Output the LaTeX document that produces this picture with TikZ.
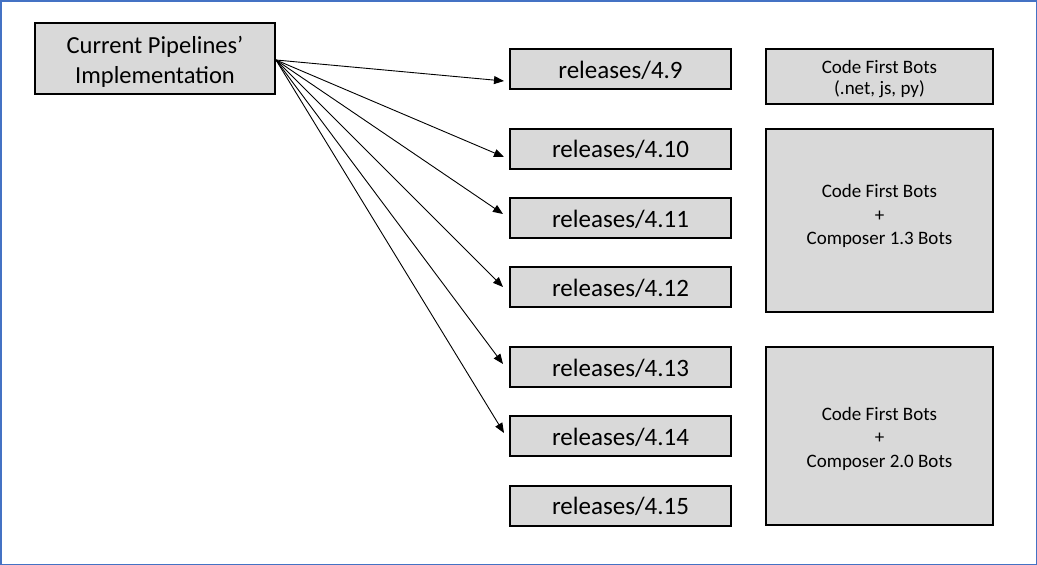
\documentclass[tikz,border=0pt]{standalone}
\usepackage{fontspec}
\setmainfont{Carlito}
\usetikzlibrary{arrows.meta}
\definecolor{boxgray}{HTML}{D9D9D9}
\definecolor{frameblue}{RGB}{68,114,196}
% centred stack of lines drawn #1 higher; a mirrored phantom keeps the box symmetric
\newcommand{\shiftedlines}[2]{%
  \raisebox{#1}{\begin{tabular}{@{}c@{}}#2\end{tabular}}%
  \raisebox{-#1}{\vphantom{\begin{tabular}{@{}c@{}}#2\end{tabular}}}}
\begin{document}
\begin{tikzpicture}[x=1pt,y=-1pt,
  box/.style={draw=black,fill=boxgray,line width=2pt,inner sep=0pt,align=center},
  rel/.style={box,minimum width=221pt,minimum height=40pt,font=\fontsize{25}{30}\selectfont},
  botbox/.style={box,minimum width=227pt,font=\fontsize{19}{23.5}\selectfont},
  link/.style={line width=0.9pt,-{Triangle[length=10pt,width=8pt]}}]
  % page frame
  \useasboundingbox (0,0) rectangle (1037,565);
  \draw[frameblue,line width=1.5pt] (0.75,0.75) rectangle (1036.25,564.25);

  % source box
  \node[box,minimum width=240pt,minimum height=71pt,font=\fontsize{24.5}{30}\selectfont]
    (main) at (155,58.5) {\shiftedlines{-3.5pt}{Current Pipelines’\\Implementation}};

  % release branches
  \node[rel] (r49)  at (620.5,69)    {\shiftedlines{-3.5pt}{releases/4.9}};
  \node[rel] (r410) at (620.5,148.5) {\shiftedlines{-3pt}{releases/4.10}};
  \node[rel] (r411) at (620.5,218)   {\shiftedlines{-3pt}{releases/4.11}};
  \node[rel] (r412) at (620.5,287)   {\shiftedlines{-3pt}{releases/4.12}};
  \node[rel] (r413) at (620.5,367)   {\shiftedlines{-3pt}{releases/4.13}};
  \node[rel] (r414) at (620.5,436)   {\shiftedlines{-3pt}{releases/4.14}};
  \node[rel] (r415) at (620.5,505.5) {\shiftedlines{-3pt}{releases/4.15}};

  % bot groups
  \node[botbox,minimum height=55pt]  (b1) at (879.5,76.5)
    {\shiftedlines{-3pt}{Code First Bots\\[-2.5pt](.net, js, py)}};
  \node[botbox,minimum height=183pt] (b2) at (879.5,220.5)
    {\shiftedlines{4pt}{Code First Bots\\+\\Composer 1.3 Bots}};
  \node[botbox,minimum height=178pt] (b3) at (879.5,436)
    {\shiftedlines{-3pt}{Code First Bots\\+\\Composer 2.0 Bots}};

  % fan of arrows from the source box
  \coordinate (src) at ([yshift=-1.5pt]main.east);
  \draw[link] (src) -- ([xshift=-5pt,yshift=-12pt]r49.west);
  \draw[link] (src) -- ([xshift=-5pt,yshift=-8.5pt]r410.west);
  \draw[link] (src) -- ([xshift=-6pt,yshift=4pt]r411.west);
  \draw[link] (src) -- ([xshift=-6pt]r412.west);
  \draw[link] (src) -- ([xshift=-6pt,yshift=3pt]r413.west);
  \draw[link] (src) -- ([xshift=-5pt,yshift=3pt]r414.west);
\end{tikzpicture}
\end{document}
